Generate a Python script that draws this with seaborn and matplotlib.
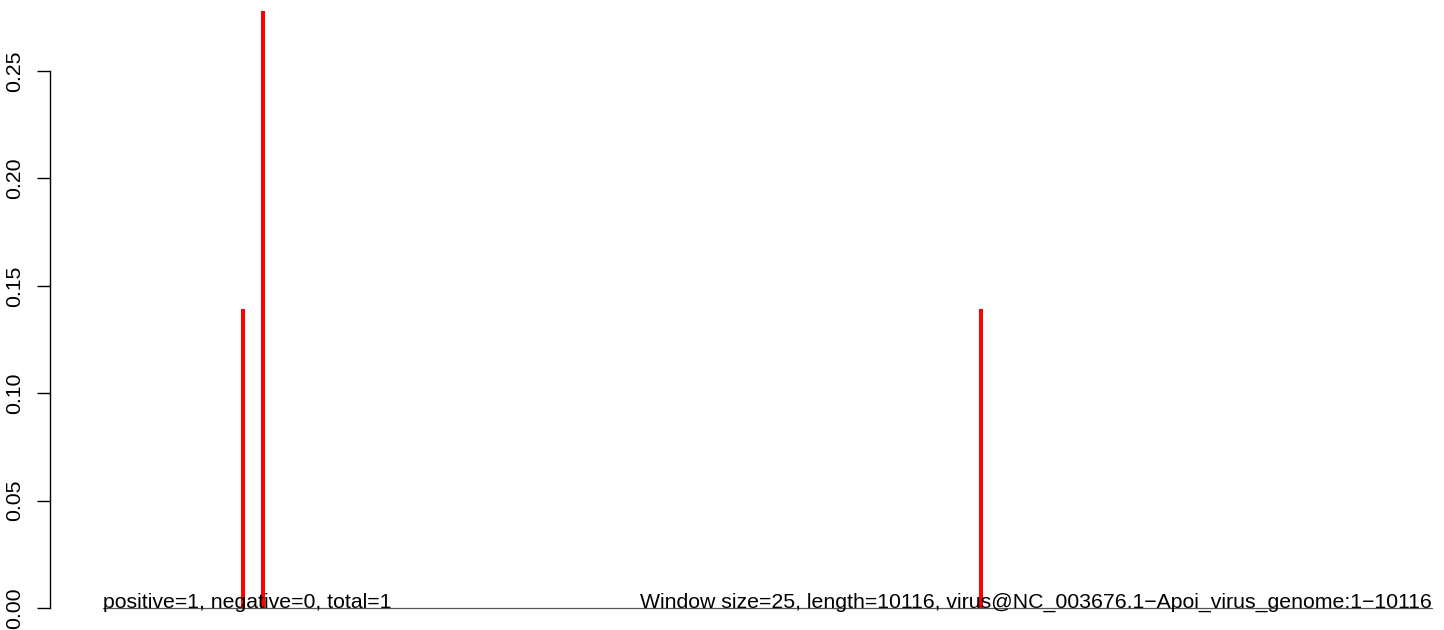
import numpy as np
import pandas as pd
import matplotlib
matplotlib.use("Agg")
import matplotlib.pyplot as plt
import seaborn as sns

# window positions and heights
positions = [1066, 1219, 6683]
heights = [0.139, 0.278, 0.139]
genome_start = 1
genome_end = 10116
y_ticks = [0.00, 0.05, 0.10, 0.15, 0.20, 0.25]
left_text = "positive=1, negative=0, total=1"
right_text = "Window size=25, length=10116, virus@NC_003676.1\u2212Apoi_virus_genome:1\u221210116"

df = pd.DataFrame({"pos": positions, "score": heights})

sns.set_style("white")
plt.rcParams["font.family"] = ["Liberation Sans", "DejaVu Sans"]
plt.rcParams["text.color"] = "black"
plt.rcParams["ytick.color"] = "black"

fig = plt.figure(figsize=(14.44, 6.30), dpi=100)
ax = fig.add_axes([50 / 1444, 0, 1394 / 1444, 1])

# baseline from genome start to end
ax.plot([genome_start, genome_end], [0, 0], color="#555555", lw=0.9, zorder=1)
ax.vlines(df["pos"], 0, df["score"], color="#ff0000", lw=2.9, zorder=2)

ax.set_xlim(-402.4, 10207)
ax.set_ylim(-0.01024, 0.2831)

for s in ["top", "right", "bottom"]:
    ax.spines[s].set_visible(False)
ax.spines["left"].set_bounds(0, 0.25)
ax.spines["left"].set_color("black")
ax.spines["left"].set_linewidth(1.0)
ax.set_xticks([])
ax.set_yticks(y_ticks)
ax.set_yticklabels([f"{v:.2f}" for v in y_ticks], rotation=90, va="center")
ax.tick_params(axis="y", direction="out", length=9.4, width=1.0, pad=9, labelsize=15.3,
               left=True, labelcolor="black")

ax.text(genome_start, 0, left_text, ha="left", va="baseline", fontsize=15.3, color="black")
ax.text(genome_end, 0, right_text, ha="right", va="baseline", fontsize=15.3, color="black")

fig.savefig("out.png", dpi=100)
